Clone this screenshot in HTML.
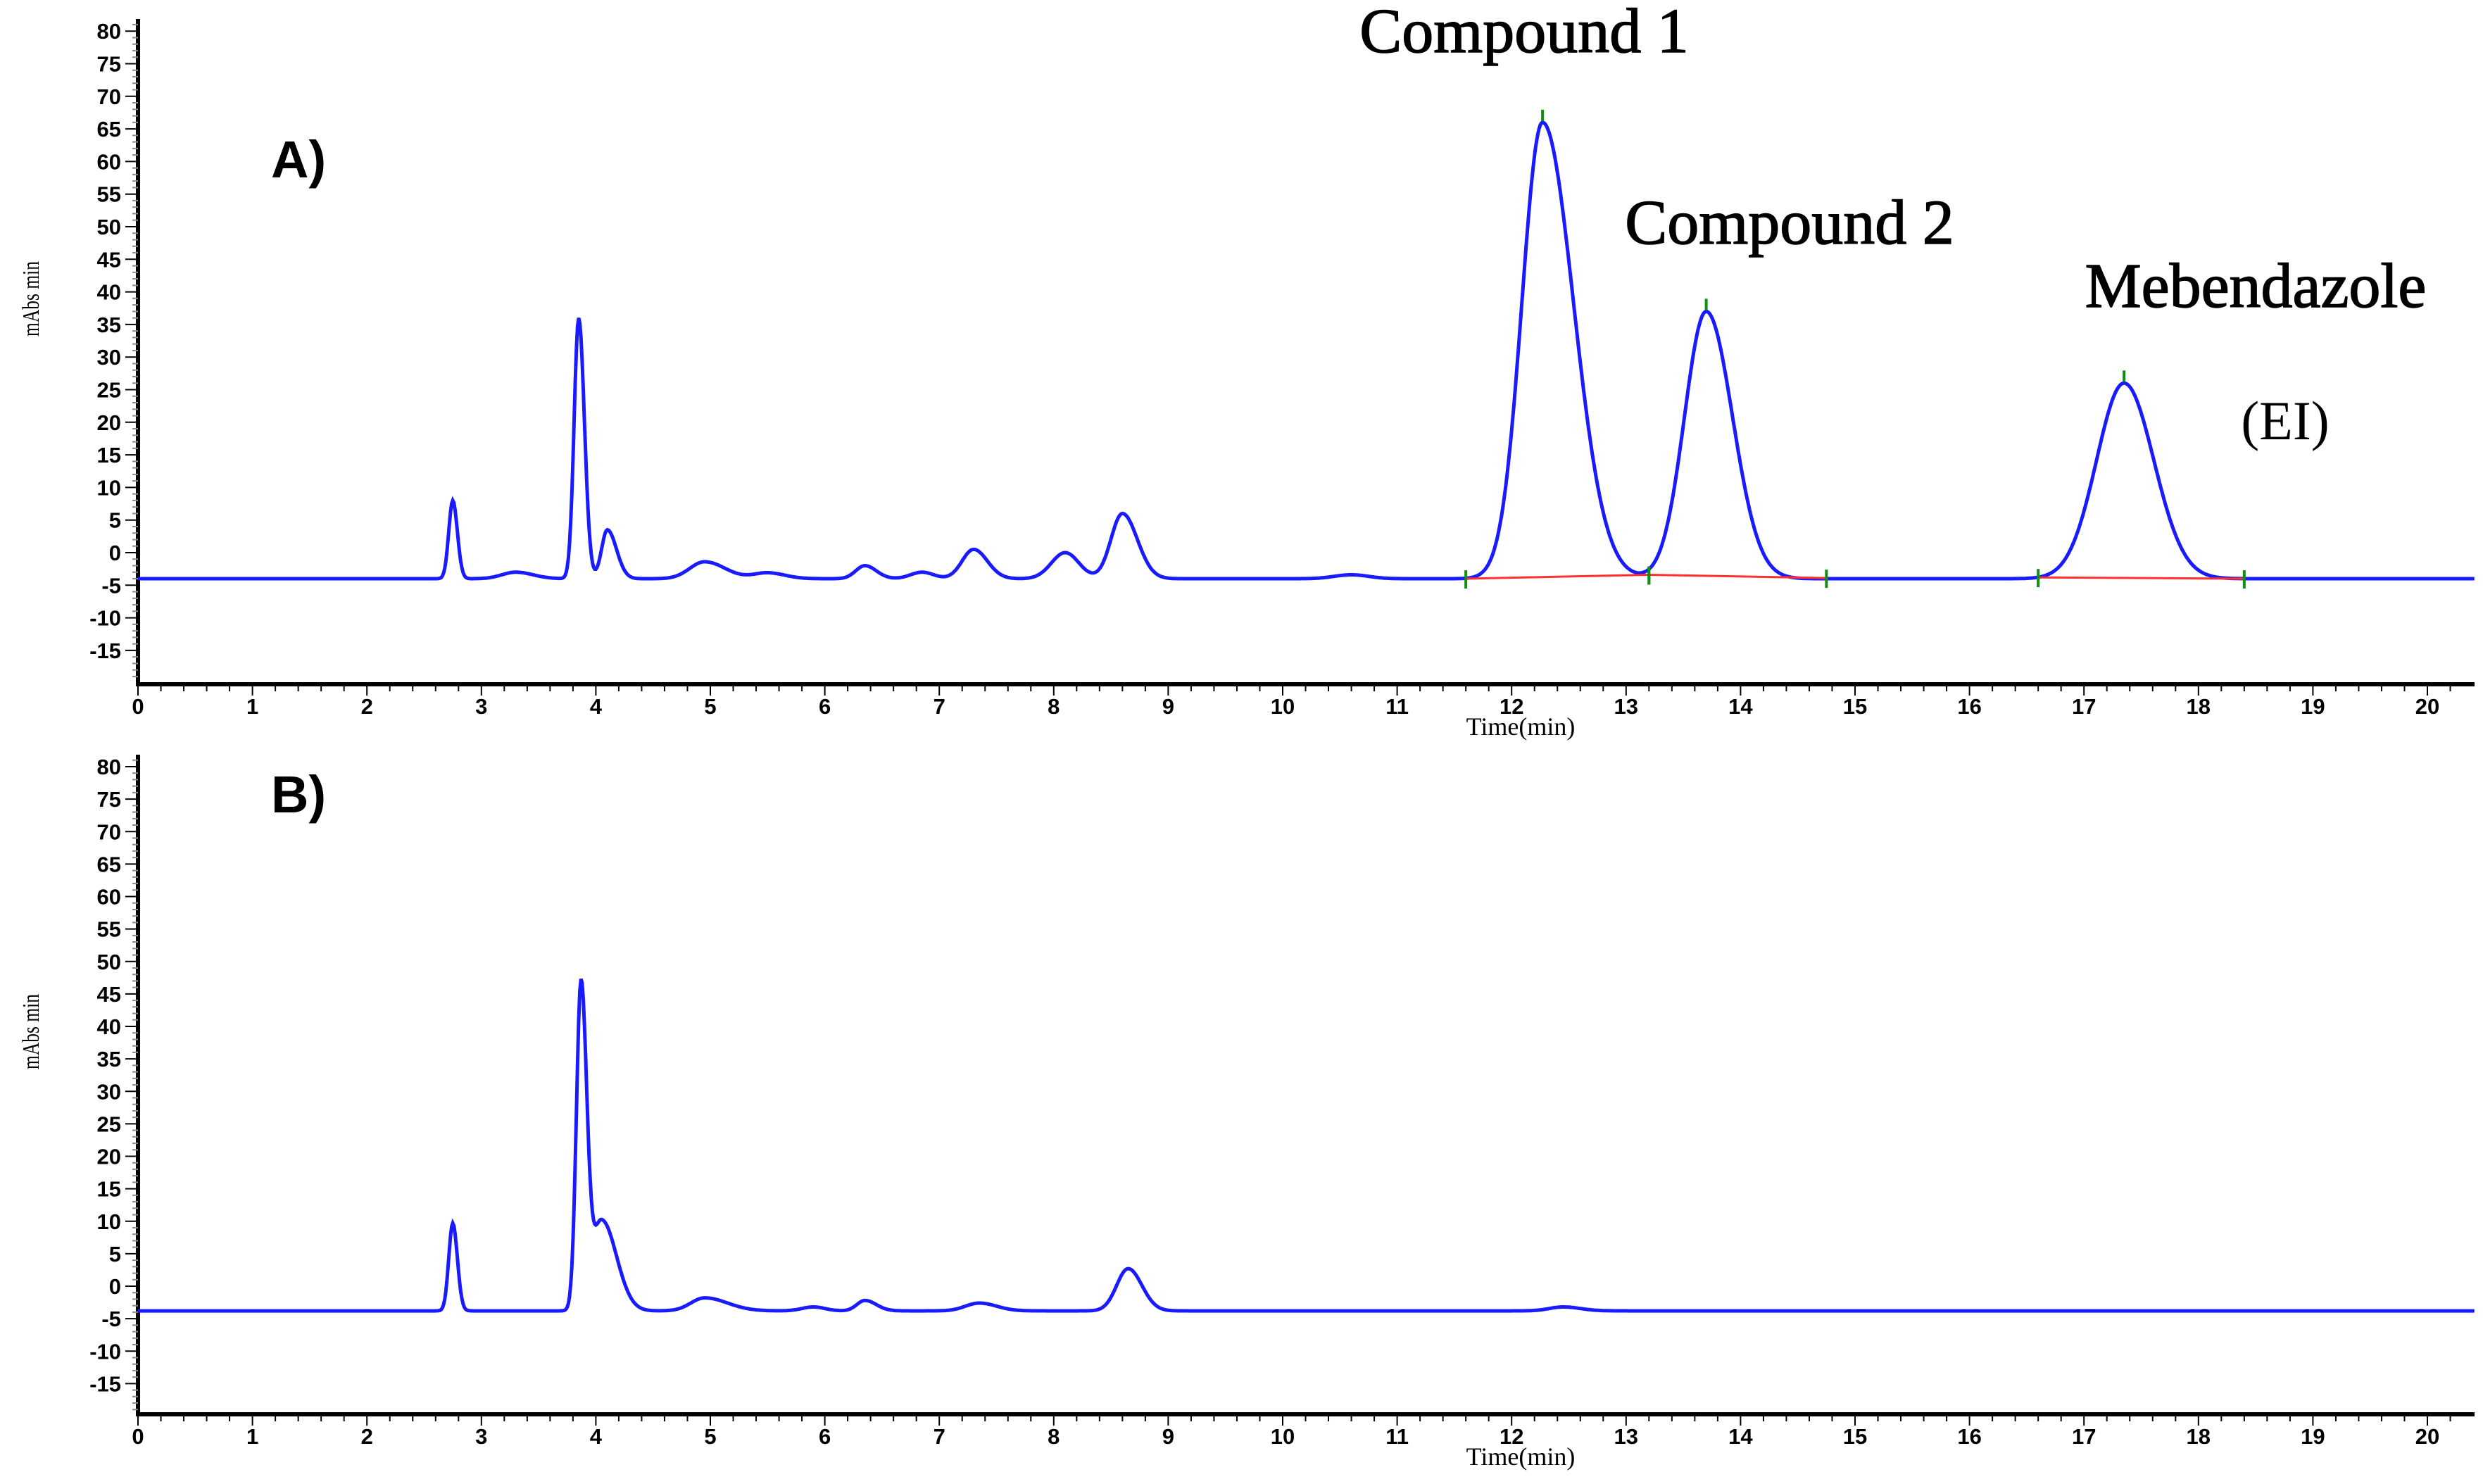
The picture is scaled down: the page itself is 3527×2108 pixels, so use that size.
<!DOCTYPE html>
<html><head><meta charset="utf-8">
<style>
html,body{margin:0;padding:0;background:#fff;}
svg{display:block;}
.tick{font-family:"Liberation Sans",sans-serif;font-size:31px;fill:#000;}
.ser{font-family:"Liberation Serif",serif;fill:#000;}
</style></head>
<body>
<svg id="chart" width="3527" height="2108" viewBox="0 0 3527 2108" xmlns="http://www.w3.org/2000/svg">
<g id="gA"></g>
<g id="gB"></g>
<text x="385" y="252" font-family="Liberation Sans,sans-serif" font-weight="bold" font-size="74">A)</text>
<text x="385" y="1154" font-family="Liberation Sans,sans-serif" font-weight="bold" font-size="74">B)</text>
<text class="ser" x="2165" y="74" font-size="90" stroke="#000" stroke-width="1.5" text-anchor="middle">Compound 1</text>
<text class="ser" x="2542" y="346" font-size="90" stroke="#000" stroke-width="1.5" text-anchor="middle">Compound 2</text>
<text class="ser" x="3204" y="436" font-size="90" stroke="#000" stroke-width="1.5" text-anchor="middle">Mebendazole</text>
<text class="ser" x="3246" y="624" font-size="78" text-anchor="middle">(EI)</text>
</svg>
<script>
// Panel A data
const peakTimesA=[2.75,3.3,3.85,4.1,4.95,5.5,6.35,6.85,7.3,8.1,8.6,10.6,12.27,13.7,17.35];
const peakHeightsA=[12,1,40,7.5,2.6,0.9,2,1,4.5,4,10,0.6,70,41,30];
const peakSigLA=[0.035,0.12,0.04,0.05,0.13,0.12,0.08,0.1,0.1,0.12,0.1,0.15,0.18,0.19,0.24];
const peakSigRA=[0.04,0.15,0.05,0.08,0.18,0.15,0.1,0.1,0.12,0.12,0.13,0.15,0.27,0.23,0.26];
const baselineA=-4;
// Panel B data
const peakTimesB=[2.75,3.87,4.05,4.95,5.9,6.35,7.35,8.65,12.45];
const peakHeightsB=[13.5,50,14,2,0.6,1.6,1.2,6.5,0.6];
const peakSigLB=[0.035,0.04,0.08,0.12,0.1,0.07,0.12,0.1,0.12];
const peakSigRB=[0.04,0.05,0.13,0.2,0.1,0.1,0.15,0.12,0.15];
const baselineB=-3.8;
const integrationStarts=[11.6,13.2,16.6];
const integrationEnds=[13.2,14.75,18.4];
const integrationStartVals=[-4,-3.4,-3.8];
const integrationEndVals=[-3.4,-3.9,-4];
const yTicks=[80,75,70,65,60,55,50,45,40,35,30,25,20,15,10,5,0,-5,-10,-15];
const xTicks=[0,1,2,3,4,5,6,7,8,9,10,11,12,13,14,15,16,17,18,19,20];

const NS="http://www.w3.org/2000/svg";
function mk(p,tag,at){const e=document.createElementNS(NS,tag);for(const k in at)e.setAttribute(k,at[k]);p.appendChild(e);return e;}
function xs(t){return 196+t*162.6;}
function signal(t,times,hts,sl,sr,base){let v=base;for(let i=0;i<times.length;i++){const s=t<times[i]?sl[i]:sr[i];v+=hts[i]*Math.exp(-0.5*Math.pow((t-times[i])/s,2));}return v;}

function panel(g,y0,yUnit,axisY,topY,times,hts,sl,sr,base,lab){
  const ys=v=>y0-v*yUnit;
  const ya=mk(g,'line',{x1:196,y1:topY,x2:196,y2:axisY,stroke:'#000','stroke-width':6});
  
  
  for(let v=-19;v<=82;v++){const yy=ys(v);if(yy<topY||yy>axisY)continue;
    const m=mk(g,'line',{x1:v%5===0?178:188,y1:yy,x2:196,y2:yy,stroke:v%5===0?'#000':'#888','stroke-width':2});
    
    }
  yTicks.forEach(v=>{const t=mk(g,'text',{x:172,y:ys(v)+11,'text-anchor':'end',class:'tick','font-weight':'bold'});t.textContent=v;
    
    });
  const yt=mk(g,'text',{x:0,y:0,class:'ser','font-size':34,'text-anchor':'middle',transform:`translate(55,${(topY+axisY)/2-75}) rotate(-90) scale(0.75,1)`});
  yt.textContent='mAbs min';
  
  
  const xa=mk(g,'line',{x1:193,y1:axisY,x2:3515,y2:axisY,stroke:'#000','stroke-width':6});
  
  
  for(let k=0;k<=102;k++){const t=k*0.2;const xx=xs(t);if(xx>3512)break;
    const m=mk(g,'line',{x1:xx,y1:axisY,x2:xx,y2:axisY+(k%5===0?16:10),stroke:'#000','stroke-width':2});
    
    }
  xTicks.forEach(v=>{const t=mk(g,'text',{x:xs(v),y:axisY+42,'text-anchor':'middle',class:'tick','font-weight':'bold'});t.textContent=v;
    
    });
  const xt=mk(g,'text',{x:2160,y:axisY+72,'text-anchor':'middle',class:'ser','font-size':36});
  xt.textContent='Time(min)';
  
  
  let d='';for(let t=0;t<=20.42;t+=0.01){const v=signal(t,times,hts,sl,sr,base);d+=(d?'L':'M')+xs(t).toFixed(1)+','+ys(v).toFixed(1);}
  const p=mk(g,'path',{d:d,fill:'none',stroke:'#1a1aff','stroke-width':5});
  
  
  return ys;
}
const gA=document.getElementById('gA'),gB=document.getElementById('gB');
const ysA=panel(gA,785,9.26,972,27,peakTimesA,peakHeightsA,peakSigLA,peakSigRA,baselineA,'panel-a');
panel(gB,1827,9.225,2009,1072,peakTimesB,peakHeightsB,peakSigLB,peakSigRB,baselineB,'panel-b');
for(let i=0;i<integrationStarts.length;i++){
  const a=integrationStarts[i],b=integrationEnds[i];
  const va=integrationStartVals[i],vb=integrationEndVals[i];
  const l=mk(gA,'line',{x1:xs(a),y1:ysA(va),x2:xs(b),y2:ysA(vb),stroke:'#ff3030','stroke-width':3});
  
  
  [[a,va],[b,vb]].forEach(([t,v])=>{const m=mk(gA,'line',{x1:xs(t),y1:ysA(v)-12,x2:xs(t),y2:ysA(v)+14,stroke:'#109010','stroke-width':4});
    
    });
}
[12,13,14].forEach(i=>{const t=peakTimesA[i];const v=signal(t,peakTimesA,peakHeightsA,peakSigLA,peakSigRA,baselineA);
  const m=mk(gA,'line',{x1:xs(t),y1:ysA(v)-18,x2:xs(t),y2:ysA(v)-2,stroke:'#109010','stroke-width':4});
  
  });
</script>
</body></html>
